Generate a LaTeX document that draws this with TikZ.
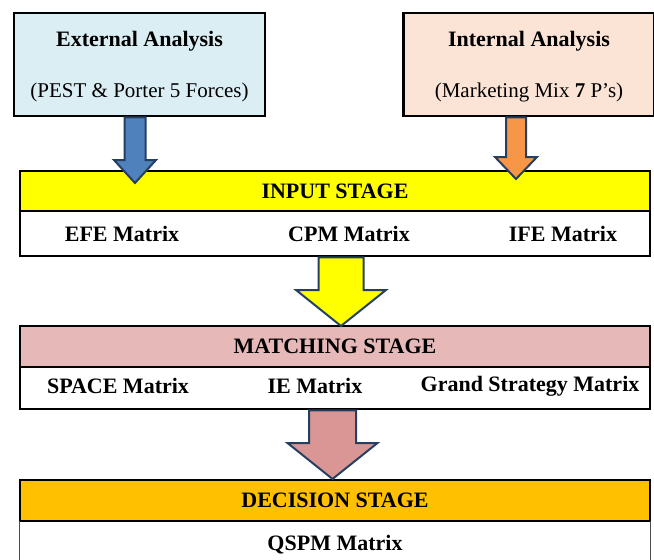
\documentclass[tikz,border=0pt]{standalone}
\usepackage{fontspec}
\setmainfont{Liberation Serif}
\usetikzlibrary{calc}
\definecolor{extblue}{HTML}{DBEEF4}
\definecolor{intpeach}{HTML}{FBE4D6}
\definecolor{bluearr}{HTML}{4F81BD}
\definecolor{orangearr}{HTML}{F79646}
\definecolor{inyellow}{HTML}{FFFF00}
\definecolor{matchpink}{HTML}{E6B9B8}
\definecolor{pinkarr}{HTML}{D99694}
\definecolor{decorange}{HTML}{FFC000}
\definecolor{arrowrim}{HTML}{243F60}
% fat block arrow: from, tip, shaft width, head width, head length, colour
\newcommand{\fatarrow}[6]{%
\draw[arrowedge,fill=#6] ($(#1)+(-0.5*#3,0)$) -- ($(#2)+(-0.5*#3,-#5)$) -- ($(#2)+(-0.5*#4,-#5)$) -- (#2) -- ($(#2)+(0.5*#4,-#5)$) -- ($(#2)+(0.5*#3,-#5)$) -- ($(#1)+(0.5*#3,0)$) -- cycle;}
\begin{document}
\begin{tikzpicture}[x=1pt,y=-1pt,
  anabox/.style={rectangle,draw=black,line width=2.5pt,minimum width=251pt,minimum height=103pt},
  stagebar/.style={rectangle,draw=black,line width=2.5pt,minimum width=630pt,minimum height=40pt,font=\fontsize{22}{26}\selectfont\bfseries},
  listbar/.style={rectangle,draw=black,line width=2.5pt,fill=white,minimum width=630pt},
  headtxt/.style={font=\fontsize{22}{26}\selectfont\bfseries},
  subtxt/.style={font=\fontsize{21}{25}\selectfont},
  arrowedge/.style={draw=arrowrim,line width=2pt,line join=miter}]
\clip (0,0) rectangle (654,560);
\fill[white] (0,0) rectangle (654,560);
% analysis boxes
\node[anabox,fill=extblue] (EA) at (139.5,64.5) {};
\node[headtxt] (EAt) at (139.5,41) {External Analysis};
\node[subtxt] (EAs) at (139.5,92) {(PEST \& Porter 5 Forces)};
\node[anabox,fill=intpeach] (IA) at (529,64.5) {};
\node[headtxt] (IAt) at (529,41) {Internal Analysis};
\node[subtxt] (IAs) at (529,92) {(Marketing Mix \textbf{7} P’s)};
% input stage
\node[stagebar,fill=inyellow] (IS) at (335,191) {INPUT STAGE};
\node[listbar,minimum height=45pt] (IL) at (335,233.5) {};
\node[headtxt] (efe) at (122,234) {EFE Matrix};
\node[headtxt] (cpm) at (349,234) {CPM Matrix};
\node[headtxt] (ife) at (563,234) {IFE Matrix};
% matching stage
\node[stagebar,fill=matchpink,minimum height=41pt] (MS) at (335,346.5) {MATCHING STAGE};
\node[listbar,minimum height=42pt] (ML) at (335,388) {};
\node[headtxt] (space) at (118,386) {SPACE Matrix};
\node[headtxt] (ie) at (315,386) {IE Matrix};
\node[headtxt] (grand) at (530,386) {Grand Strategy Matrix};
% decision stage
\node[stagebar,fill=decorange,minimum height=41pt] (DS) at (335,500.5) {DECISION STAGE};
\node[rectangle,minimum width=630pt,minimum height=60pt] (DL) at (335,551) {};
\draw[line width=1pt,black!70] (DL.north west) -- (DL.south west);
\draw[line width=1pt,black!70] (DL.north east) -- (DL.south east);
\node[headtxt] (qspm) at (335,545) {QSPM Matrix};
% arrows
\coordinate (exttip) at (135,183);
\coordinate (inttip) at (516,179);
\coordinate (matchtip) at (341,326);
\coordinate (dectip) at (332.5,479);
\fatarrow{EA.south -| exttip}{exttip}{21}{42}{23}{bluearr}
\fatarrow{IA.south -| inttip}{inttip}{20}{42}{22}{orangearr}
\fatarrow{IL.south -| matchtip}{matchtip}{45}{90}{36}{inyellow}
\fatarrow{ML.south -| dectip}{dectip}{47}{90}{36}{pinkarr}
\end{tikzpicture}
\end{document}
